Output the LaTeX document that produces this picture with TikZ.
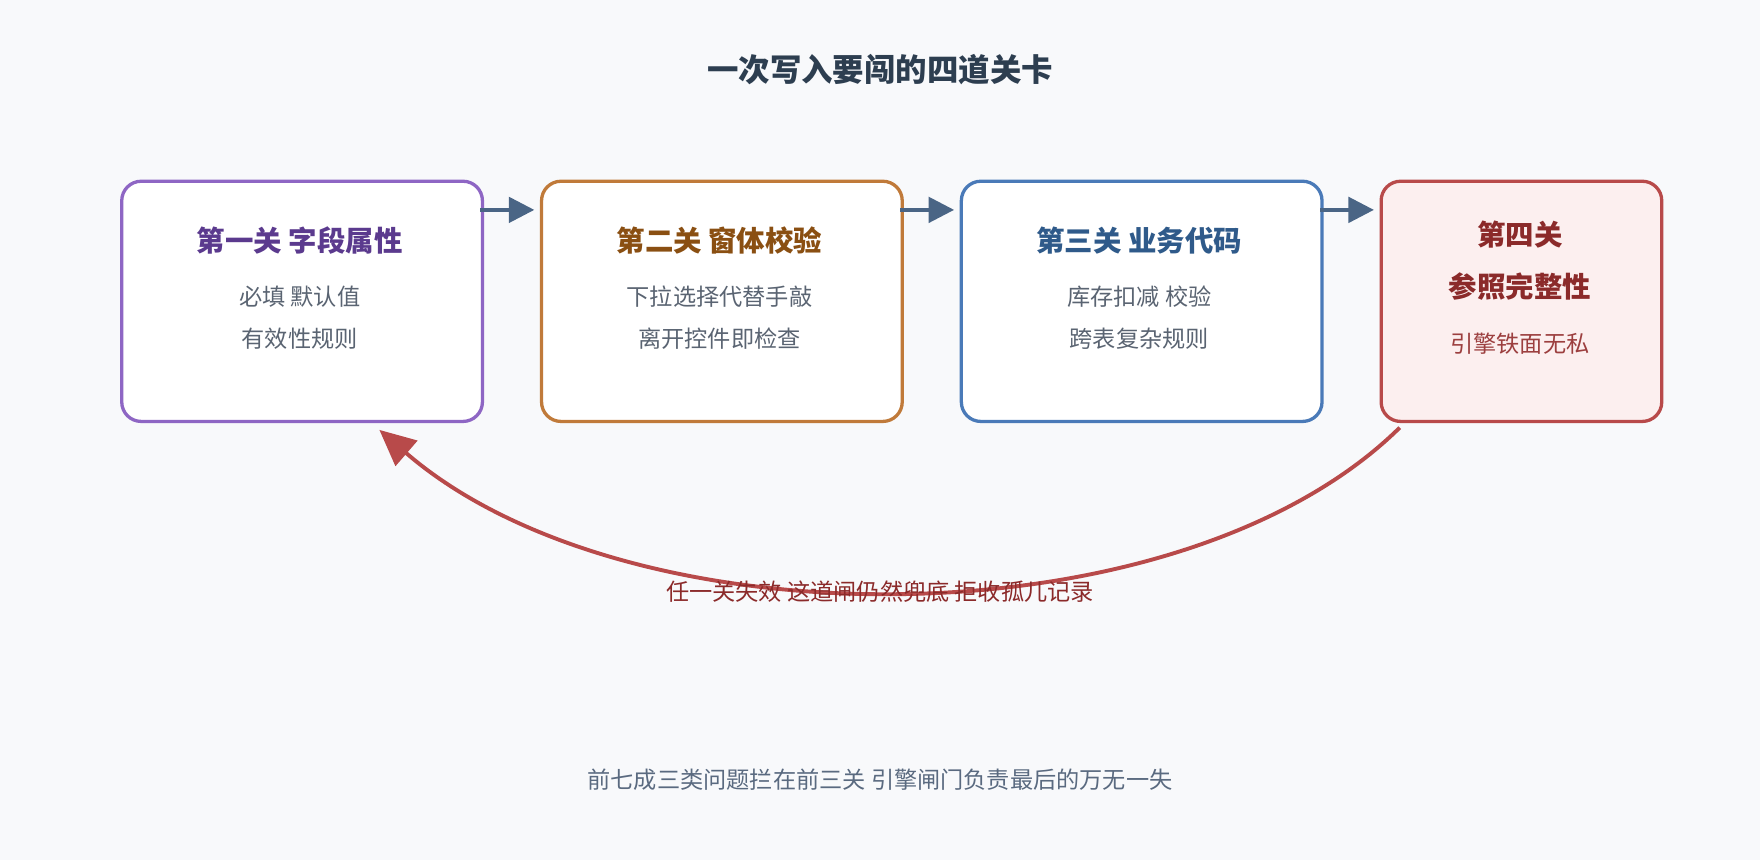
\documentclass[tikz,border=0pt]{standalone}
\usepackage{fontspec}
\setmainfont{Noto Sans CJK SC}
\usetikzlibrary{arrows.meta}
\definecolor{bg}{HTML}{F8F9FB}
\definecolor{ttl}{HTML}{2D3E50}
\definecolor{txt}{HTML}{5A6472}
\definecolor{pur}{HTML}{8E66C4}\definecolor{purT}{HTML}{5B3A8E}
\definecolor{ora}{HTML}{C07A3A}\definecolor{oraT}{HTML}{8A4F12}
\definecolor{blu}{HTML}{4A7AB8}\definecolor{bluT}{HTML}{2F5A8A}
\definecolor{red}{HTML}{B84A4A}\definecolor{redT}{HTML}{8B2A2A}\definecolor{redF}{HTML}{FCEFEF}
\definecolor{arr}{HTML}{4A6585}
\definecolor{foot}{HTML}{5A6A80}
\tikzset{
 box/.style={draw, line width=2.2pt, rounded corners=13pt, fill=white, anchor=north west},
 head/.style={font=\fontsize{19}{22}\selectfont\bfseries},
 line/.style={font=\fontsize{15.5}{18}\selectfont, text=txt},
 flow/.style={draw=arr, line width=2.4pt, -{Triangle[length=17pt,width=17pt]}},
}
\begin{document}
\begin{tikzpicture}[x=0.75pt,y=-0.75pt]
\fill[bg] (0,0) rectangle (1568,766);
\useasboundingbox (0,0) rectangle (1568,766);
\node[font=\fontsize{21}{24}\selectfont\bfseries, text=ttl] (title) at (784,62) {一次写入要闯的四道关卡};
\node[box, draw=pur, minimum width=241pt, minimum height=160.5pt] (b1) at (107,160) {};
\node[box, draw=ora, minimum width=241pt, minimum height=160.5pt] (b2) at (481,160) {};
\node[box, draw=blu, minimum width=241pt, minimum height=160.5pt] (b3) at (855,160) {};
\node[box, draw=red, fill=redF, minimum width=187.5pt, minimum height=160.5pt] (b4) at (1229,160) {};
\node[head, text=purT] (h1) at (267,214) {第一关 字段属性};
\node[line] (l1a) at (267,264) {必填 默认值};
\node[line] (l1b) at (267,302) {有效性规则};
\node[head, text=oraT] (h2) at (641,214) {第二关 窗体校验};
\node[line] (l2a) at (641,264) {下拉选择代替手敲};
\node[line] (l2b) at (641,302) {离开控件即检查};
\node[head, text=bluT] (h3) at (1015,214) {第三关 业务代码};
\node[line] (l3a) at (1015,264) {库存扣减 校验};
\node[line] (l3b) at (1015,302) {跨表复杂规则};
\node[head, text=redT] (h4a) at (1354,209) {第四关};
\node[head, text=redT] (h4b) at (1354,255) {参照完整性};
\node[line, text=red!85!black] (l4) at (1354,306) {引擎铁面无私};
\coordinate (a1) at (428,187); \coordinate (a1e) at (476,187);
\coordinate (a2) at (802,187); \coordinate (a2e) at (850,187);
\coordinate (a3) at (1176,187); \coordinate (a3e) at (1224,187);
\draw[flow] (a1) -- (a1e);
\draw[flow] (a2) -- (a2e);
\draw[flow] (a3) -- (a3e);
\coordinate (cs) at (1247,381); \coordinate (ce) at (338,383);
\draw[red, line width=2.6pt, -{Triangle[length=24pt,width=22pt]}] (cs) .. controls (1050,575) and (560,575) .. (ce);
\node[font=\fontsize{15.5}{18}\selectfont, text=redT] (cap) at (784,527) {任一关失效 这道闸仍然兜底 拒收孤儿记录};
\node[font=\fontsize{15.5}{18}\selectfont, text=foot] (ft) at (784,695) {前七成三类问题拦在前三关 引擎闸门负责最后的万无一失};
\end{tikzpicture}
\end{document}
